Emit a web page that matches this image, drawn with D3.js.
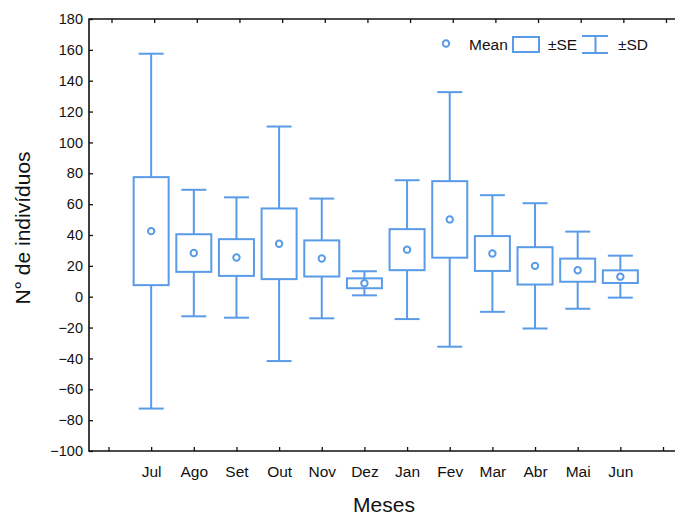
<!DOCTYPE html>
<html>
<head>
<meta charset="utf-8">
<script src="https://cdn.jsdelivr.net/npm/d3@7"></script>
<style>
  body { margin: 0; background: #fff; }
  text { font-family: "Liberation Sans", Arial, sans-serif; }
</style>
</head>
<body>
<div id="chart_container"></div>
<script>
// values
const months = ["Jul", "Ago", "Set", "Out", "Nov", "Dez", "Jan", "Fev", "Mar", "Abr", "Mai", "Jun"];
const means = [42.5, 28.3, 25.4, 34.3, 24.8, 8.7, 30.5, 50.1, 28, 20, 17.2, 13];
const se = [35, 12.2, 11.9, 22.9, 11.7, 3.2, 13.3, 24.8, 11.3, 12.1, 7.5, 4.1];
const sd = [115, 41, 39, 76, 38.8, 7.8, 45, 82.5, 37.8, 40.6, 25, 13.6];
const yTicks = [-100, -80, -60, -40, -20, 0, 20, 40, 60, 80, 100, 120, 140, 160, 180];

const blue = "#5a9be8";
const width = 675, height = 515;

const svg = d3.select("#chart_container")
    .append("svg")
    .attr("width", width)
    .attr("height", height);

// slot 0 and 13 are empty tick positions, months sit on 1..12
const x = d3.scaleLinear()
    .domain([0, 13])
    .range([108.5, 663]);

const y = d3.scaleLinear()
    .domain([-100, 180])
    .range([451, 19]);

const data = months.map((m, i) => ({ month: m, i: i + 1, mean: means[i], se: se[i], sd: sd[i] }));

// frame (right side is cut off in the reference)
svg.append("path")
    .attr("d", `M720,${y(180)}H89V${y(-100)}H720`)
    .attr("fill", "none")
    .attr("stroke", "#111")
    .attr("stroke-width", 1.6);

// Y axis
const yAxis = svg.append("g")
    .attr("transform", "translate(89,0)")
    .call(d3.axisLeft(y).tickValues(yTicks).tickSizeInner(-4).tickSizeOuter(0).tickPadding(6));
yAxis.select(".domain").remove();
yAxis.selectAll("line").attr("stroke", "#111").attr("stroke-width", 1.3);
yAxis.selectAll("text")
    .style("font-size", "14.5px")
    .attr("fill", "#111");

// X axis bottom
const xAxis = svg.append("g")
    .attr("transform", `translate(0, ${y(-100)})`)
    .call(d3.axisBottom(x).tickValues(d3.range(0, 14))
        .tickFormat(k => months[k - 1] || "")
        .tickSizeInner(-4).tickSizeOuter(0).tickPadding(15));
xAxis.select(".domain").remove();
xAxis.selectAll("line").attr("stroke", "#111").attr("stroke-width", 1.3);
xAxis.selectAll("text")
    .style("font-size", "15.5px")
    .attr("fill", "#111");

// X axis top (ticks only)
const xTop = svg.append("g")
    .attr("transform", `translate(3, ${y(180)})`)
    .call(d3.axisTop(x).tickValues(d3.range(0, 14)).tickFormat("").tickSizeInner(-4).tickSizeOuter(0));
xTop.select(".domain").remove();
xTop.selectAll("line").attr("stroke", "#111").attr("stroke-width", 1.3);

// axis titles
svg.append("text")
    .attr("x", 384)
    .attr("y", 512)
    .attr("text-anchor", "middle")
    .style("font-size", "21px")
    .attr("fill", "#111")
    .text("Meses");

svg.append("text")
    .attr("transform", "translate(30, 228) rotate(-90)")
    .attr("text-anchor", "middle")
    .style("font-size", "21px")
    .attr("fill", "#111")
    .text("N° de indivíduos");

// boxes
const boxW = 35, capW = 25;
const nodes = svg.selectAll(".box")
    .data(data)
    .enter()
    .append("g")
    .classed("box", true)
    .attr("fill", "none")
    .attr("stroke", blue)
    .attr("stroke-width", 2);

// whiskers (±SD)
nodes.append("line")
    .attr("x1", d => x(d.i)).attr("x2", d => x(d.i))
    .attr("y1", d => y(d.mean + d.sd)).attr("y2", d => y(d.mean - d.sd));
nodes.append("line")
    .attr("x1", d => x(d.i) - capW / 2).attr("x2", d => x(d.i) + capW / 2)
    .attr("y1", d => y(d.mean + d.sd)).attr("y2", d => y(d.mean + d.sd));
nodes.append("line")
    .attr("x1", d => x(d.i) - capW / 2).attr("x2", d => x(d.i) + capW / 2)
    .attr("y1", d => y(d.mean - d.sd)).attr("y2", d => y(d.mean - d.sd));

// box (±SE)
nodes.append("rect")
    .attr("x", d => x(d.i) - boxW / 2)
    .attr("y", d => y(d.mean + d.se))
    .attr("width", boxW)
    .attr("height", d => y(d.mean - d.se) - y(d.mean + d.se))
    .attr("fill", "#fff");

// mean
nodes.append("circle")
    .attr("cx", d => x(d.i))
    .attr("cy", d => y(d.mean))
    .attr("r", 3.2)
    .attr("fill", "#fff");

// legend
const legend = svg.append("g").attr("stroke", blue).attr("stroke-width", 2).attr("fill", "#fff");
legend.append("circle").attr("cx", 446).attr("cy", 43.5).attr("r", 3.2);
legend.append("rect").attr("x", 513).attr("y", 37).attr("width", 26).attr("height", 15);
legend.append("path").attr("d", "M582,36H608M595.5,36V53M582,53H608").attr("fill", "none");

const legendText = [["Mean", 469], ["±SE", 548], ["±SD", 618]];
svg.selectAll(".legtext")
    .data(legendText)
    .enter()
    .append("text")
    .attr("x", d => d[1])
    .attr("y", 50)
    .style("font-size", "15.5px")
    .attr("fill", "#111")
    .text(d => d[0]);
</script>
</body>
</html>
